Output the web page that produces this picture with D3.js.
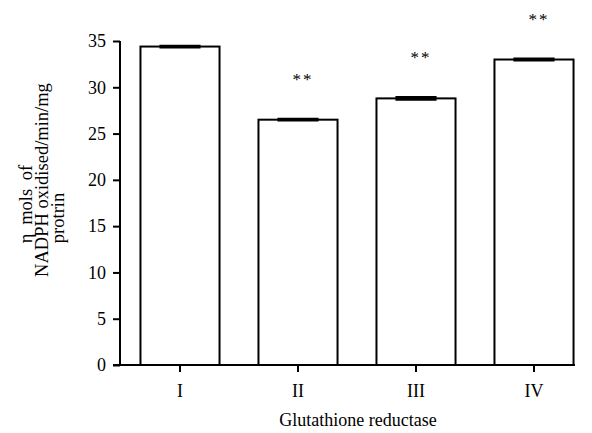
<!DOCTYPE html>
<html>
<head>
<meta charset="utf-8">
<script src="https://cdn.jsdelivr.net/npm/d3@7"></script>
<style>
  html, body { margin: 0; padding: 0; background: #fff; }
  svg text { font-family: "Liberation Serif", "Times New Roman", serif; fill: #000; }
</style>
</head>
<body>
<svg id="chart" width="592" height="433"></svg>
<script>
// Glutathione reductase activity per group
const groups = ["I", "II", "III", "IV"];
const means = [34.4, 26.5, 28.8, 33.0];
const errors = [0.1, 0.1, 0.15, 0.1];
const significance = ["", "**", "**", "**"];
const yTicks = [0, 5, 10, 15, 20, 25, 30, 35];

const svg = d3.select("#chart");
const y0 = 365, yTop = 41, xAxisLeft = 113, xAxisRight = 575, yAxisX = 120;
const serif = '"Liberation Serif", "Times New Roman", serif';

const y = d3.scaleLinear().domain([0, 35]).range([y0, yTop]);
const x = d3.scaleBand().domain(groups).range([121, 593])
  .paddingInner(0.33).paddingOuter(0.165);

// Y axis
const yAxis = svg.append("g")
  .attr("transform", `translate(${yAxisX},0)`)
  .call(d3.axisLeft(y).tickValues(yTicks).tickSize(7).tickPadding(7).tickSizeOuter(0));
yAxis.attr("font-family", null).attr("font-size", null);
yAxis.select(".domain").attr("stroke", "#000").attr("stroke-width", 2)
  .attr("d", `M0,${y0}V${yTop}`);
yAxis.selectAll(".tick line").attr("stroke", "#000").attr("stroke-width", 2);
yAxis.selectAll(".tick text")
  .style("font-family", serif).style("font-size", "18px").style("fill", "#000");

// Bars
svg.append("g").selectAll("rect").data(groups).join("rect")
  .attr("x", d => x(d))
  .attr("y", (d, i) => y(means[i]))
  .attr("width", x.bandwidth())
  .attr("height", (d, i) => y(0) - y(means[i]))
  .attr("fill", "#fff").attr("stroke", "#000").attr("stroke-width", 2);

// Error bars (mean ± SE)
const capW = x.bandwidth() * 0.52;
const eb = svg.append("g").selectAll("g").data(groups).join("g")
  .attr("transform", d => `translate(${x(d) + x.bandwidth() / 2},0)`);
eb.append("line")
  .attr("y1", (d, i) => y(means[i] - errors[i])).attr("y2", (d, i) => y(means[i] + errors[i]))
  .attr("stroke", "#000").attr("stroke-width", 2);
eb.append("line").attr("x1", -capW / 2).attr("x2", capW / 2)
  .attr("y1", (d, i) => y(means[i] + errors[i])).attr("y2", (d, i) => y(means[i] + errors[i]))
  .attr("stroke", "#000").attr("stroke-width", 2);
eb.append("line").attr("x1", -capW / 2).attr("x2", capW / 2)
  .attr("y1", (d, i) => y(means[i] - errors[i])).attr("y2", (d, i) => y(means[i] - errors[i]))
  .attr("stroke", "#000").attr("stroke-width", 2);

// Significance markers
svg.append("g").selectAll("text").data(groups).join("text")
  .attr("x", d => x(d) + x.bandwidth() / 2 + 5)
  .attr("y", (d, i) => y(means[i]) - 35)
  .attr("text-anchor", "middle")
  .style("font-size", "17px")
  .attr("letter-spacing", 2)
  .text((d, i) => significance[i]);

// X axis
const xg = svg.append("g").attr("transform", `translate(0,${y0})`);
xg.append("line").attr("x1", xAxisLeft).attr("x2", xAxisRight)
  .attr("stroke", "#000").attr("stroke-width", 2);
const xt = xg.selectAll("g.tick").data(groups).join("g").attr("class", "tick")
  .attr("transform", d => `translate(${x(d) + x.bandwidth() / 2},0)`);
xt.append("line").attr("y2", 7).attr("stroke", "#000").attr("stroke-width", 2);
xt.append("text").attr("y", 32).attr("text-anchor", "middle")
  .style("font-size", "18px").text(d => d);

// Axis titles
svg.append("text").attr("x", 358).attr("y", 426).attr("text-anchor", "middle")
  .style("font-size", "18px").text("Glutathione reductase");

const yTitleLines = [
  { text: "η mols of", center: 204, x: 32, wordSpacing: 4 },
  { text: "NADPH oxidised/min/mg", center: 180, x: 48, wordSpacing: 0 },
  { text: "protrin", center: 218, x: 64, wordSpacing: 0 }
];
svg.append("g").selectAll("text").data(yTitleLines).join("text")
  .attr("transform", d => `translate(${d.x},${d.center}) rotate(-90)`)
  .attr("text-anchor", "middle")
  .attr("word-spacing", d => d.wordSpacing)
  .style("font-size", "18.5px")
  .text(d => d.text);
</script>
</body>
</html>
